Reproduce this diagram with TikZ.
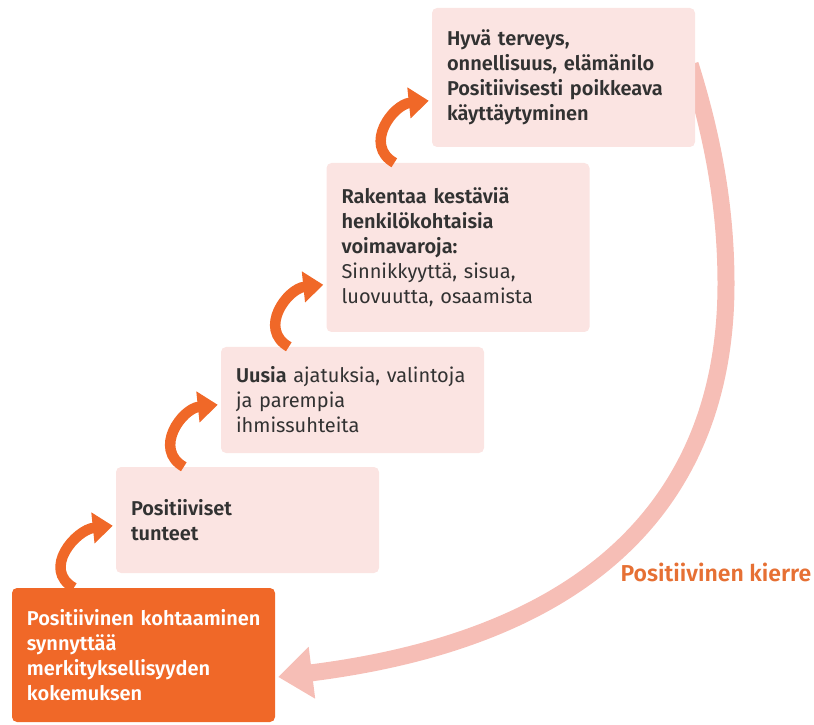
\documentclass[tikz,border=0pt]{standalone}
\usepackage{fontspec}
\setmainfont{Fira Sans}[BoldFont={Fira Sans SemiBold}]
\usetikzlibrary{arrows.meta,calc,backgrounds}

\definecolor{kOrange}{RGB}{240,104,40}
\definecolor{kPink}{RGB}{251,228,226}
\definecolor{kArc}{RGB}{246,190,182}
\definecolor{kText}{RGB}{50,50,50}
\definecolor{kLabel}{RGB}{230,112,52}

\tikzset{
  box/.style={fill=kPink, rounded corners=5pt, minimum width=263pt,
    text width=233pt, inner xsep=15pt, inner ysep=0pt, align=left,
    text=kText, font=\fontsize{20}{25}\selectfont},
  firstbox/.style={box, fill=kOrange, text=white},
  up/.style={draw=kOrange, line width=10.5pt, looseness=1.3,
    -{Triangle[width=30pt,length=20pt]}},
  back/.style={draw=kArc, line width=17pt,
    -{Triangle[width=50pt,length=34pt]}},
}

\begin{document}
\begin{tikzpicture}[x=1pt, y=1pt]
  \useasboundingbox (0,0) rectangle (814,724);
  \node[firstbox, minimum height=134pt] (a) at (143.5,69)
    {\bfseries \mbox{Positiivinen kohtaaminen}\\synnyttää\\merkityksellisyyden\\kokemuksen};
  \node[box, minimum height=106pt] (b) at (247.5,204)
    {\bfseries Positiiviset\\tunteet};
  \node[box, minimum height=106pt] (c) at (352.5,324)
    {\textbf{Uusia} ajatuksia, valintoja\\ja parempia\\ihmissuhteita};
  \node[box, minimum height=169pt] (d) at (458,476.5)
    {\textbf{Rakentaa kestäviä\\henkilökohtaisia\\voimavaroja:}\\Sinnikkyyttä, sisua,\\luovuutta, osaamista};
  \node[box, minimum height=139pt] (e) at (563.5,646.5)
    {\bfseries Hyvä terveys,\\onnellisuus, elämänilo\\\mbox{Positiivisesti poikkeava}\\käyttäytyminen};
  \node[text=kLabel, font=\fontsize{23}{28}\selectfont\bfseries] (k) at (716,152)
    {Positiivinen kierre};

  % one step up each time
  \draw[up] ([xshift=62pt]a.north west) to[out=150, in=186] ($(b.west |- a.north)+(-3,62)$);
  \draw[up] ([xshift=68pt]b.north west) to[out=150, in=186] ($(c.west |- b.north)+(-3,62)$);
  \draw[up] ([xshift=68pt]c.north west) to[out=150, in=186] ($(d.west |- c.north)+(-3,62)$);
  \draw[up] ([xshift=68pt]d.north west) to[out=150, in=186] ($(e.west |- d.north)+(-3,62)$);

  % and round again
  \coordinate (r) at (726,440);
  \begin{pgfonlayer}{background}
    \draw[back] ([shift={(-5,13)}]e.east) .. controls +(25,-80) and +(0,70) .. (r)
      .. controls +(0,-190) and +(342,43) .. ([shift={(3,-22)}]a.east);
  \end{pgfonlayer}
\end{tikzpicture}
\end{document}
